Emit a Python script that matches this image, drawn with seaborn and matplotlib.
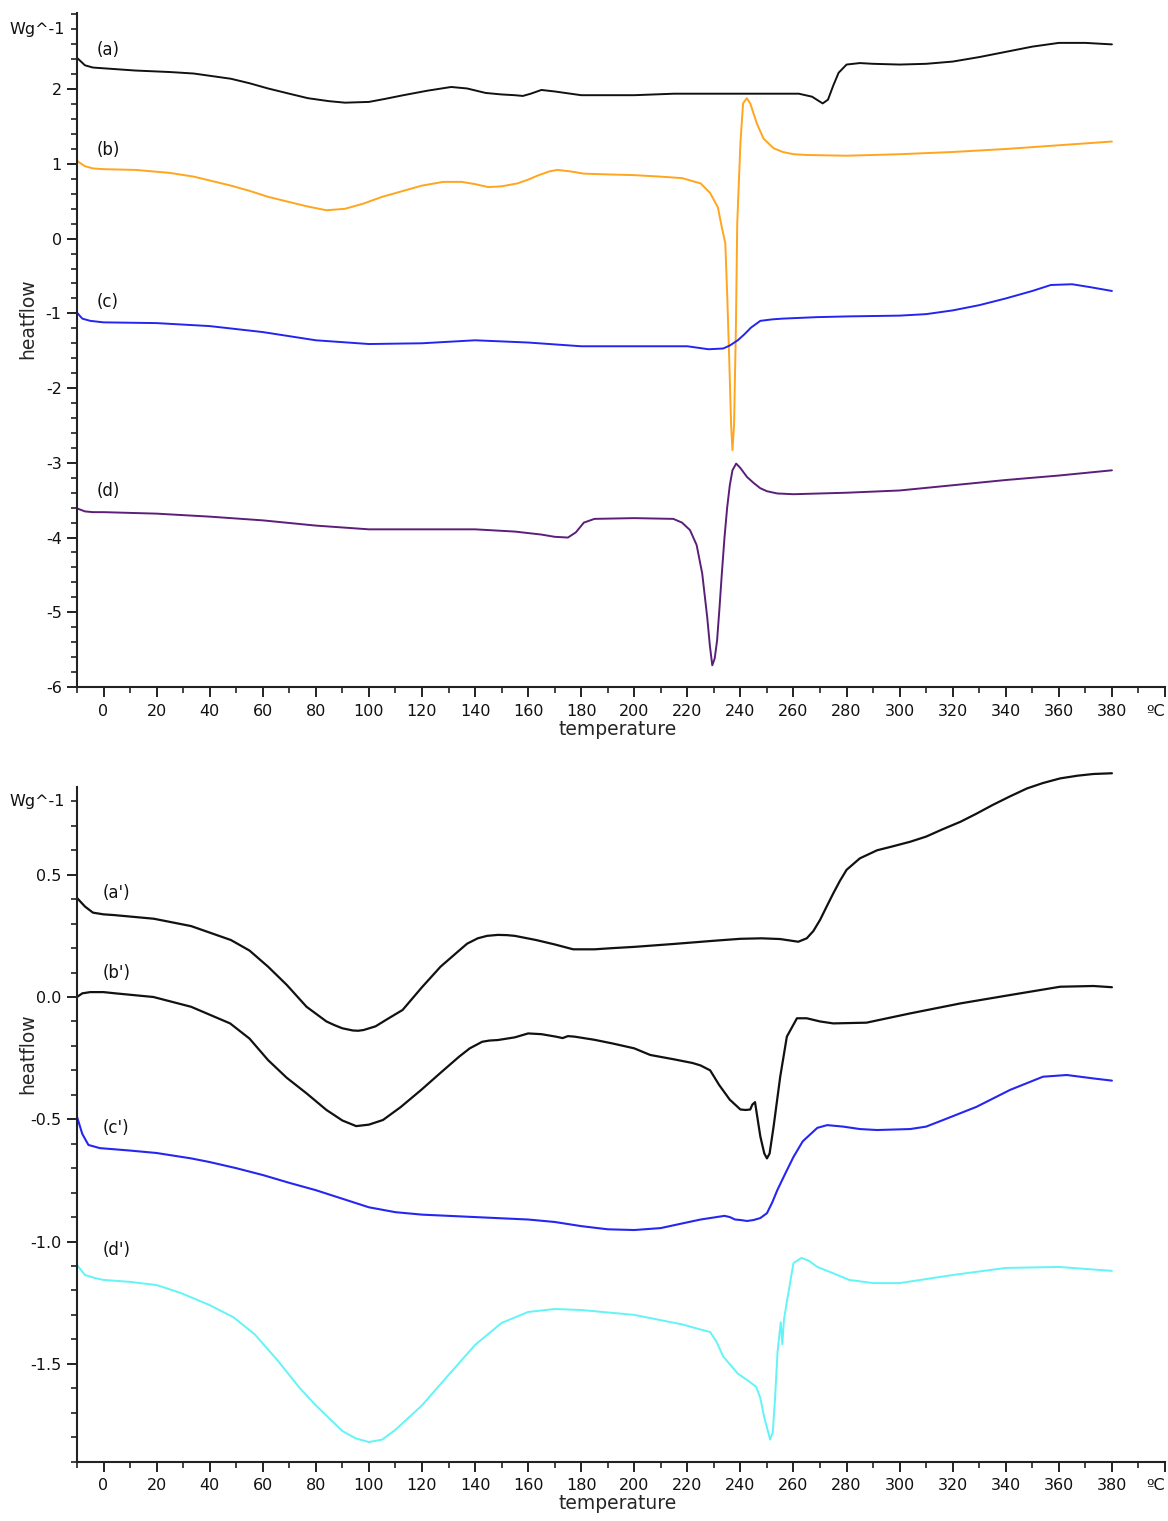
import numpy as np
import matplotlib
matplotlib.use("Agg")
import matplotlib.pyplot as plt
import matplotlib.transforms as mtransforms
from matplotlib.ticker import FixedLocator
import seaborn as sns

# ---------------- DSC traces, upper panel ----------------
t_a = [-10, -7, -4, 0, 12, 25, 34, 48, 55, 62, 70, 77, 85, 91, 100, 106, 113, 122, 131, 137,
       144, 150, 155, 158, 161, 165, 170, 180, 200, 215, 240, 262, 267, 271, 273, 275, 277,
       280, 285, 290, 300, 310, 320, 330, 340, 350, 360, 370, 380]
v_a = [2.42, 2.32, 2.29, 2.28, 2.25, 2.23, 2.21, 2.14, 2.08, 2.01, 1.94, 1.88, 1.84, 1.82,
       1.83, 1.87, 1.92, 1.98, 2.03, 2.01, 1.95, 1.93, 1.92, 1.91, 1.94, 1.99, 1.97, 1.92,
       1.92, 1.94, 1.94, 1.94, 1.90, 1.81, 1.86, 2.05, 2.22, 2.33, 2.35, 2.34, 2.33, 2.34,
       2.37, 2.43, 2.50, 2.57, 2.62, 2.62, 2.60]

t_b = [-10, -7, -4, 0, 12, 25, 34, 48, 55, 62, 70, 77, 84, 91, 98, 105, 113, 120, 128, 135,
       140, 145, 150, 156, 160, 164, 168, 171, 176, 181, 190, 200, 210, 218, 225, 228.6,
       231.5, 233, 234.3, 235, 235.8, 236.5, 237, 237.6, 238.3, 238.8, 240, 241, 242.4,
       243.7, 246.2, 248.7, 252.5, 256, 260, 265, 280, 300, 320, 340, 360, 380]
v_b = [1.04, 0.97, 0.94, 0.93, 0.92, 0.88, 0.83, 0.71, 0.64, 0.56, 0.49, 0.43, 0.38, 0.40,
       0.47, 0.56, 0.64, 0.71, 0.76, 0.76, 0.73, 0.69, 0.70, 0.74, 0.79, 0.85, 0.90, 0.92,
       0.90, 0.87, 0.86, 0.85, 0.83, 0.81, 0.74, 0.61, 0.42, 0.15, -0.06, -0.73, -1.63,
       -2.50, -2.83, -2.50, -1.19, 0.20, 1.28, 1.81, 1.88, 1.81, 1.54, 1.34, 1.21, 1.16,
       1.13, 1.12, 1.11, 1.13, 1.16, 1.20, 1.25, 1.30]

t_c = [-10, -8, -5, 0, 20, 40, 60, 80, 100, 120, 140, 160, 180, 200, 220, 228, 233.5, 236,
       239, 241.5, 244, 247.5, 252, 256, 269, 281, 300, 310, 320, 330, 340, 350, 357, 365,
       372, 380]
v_c = [-0.99, -1.07, -1.10, -1.12, -1.13, -1.17, -1.25, -1.36, -1.41, -1.40, -1.36, -1.39,
       -1.44, -1.44, -1.44, -1.48, -1.47, -1.43, -1.36, -1.28, -1.19, -1.10, -1.08, -1.07,
       -1.05, -1.04, -1.03, -1.01, -0.96, -0.89, -0.80, -0.70, -0.62, -0.61, -0.65, -0.70]

t_d = [-10, -7, -4, 0, 20, 40, 60, 80, 100, 120, 140, 155, 165, 170, 175, 178, 181, 185,
       200, 214.7, 218, 221, 223.5, 225.6, 227.5, 228.5, 229.4, 230.3, 231.2, 232.1, 233,
       234, 235, 236, 237, 238.4, 240, 242.5, 245, 247.5, 250, 253.9, 260, 280, 300, 320,
       340, 360, 380]
v_d = [-3.61, -3.65, -3.66, -3.66, -3.68, -3.72, -3.77, -3.84, -3.89, -3.89, -3.89, -3.92,
       -3.96, -3.99, -4.00, -3.93, -3.80, -3.75, -3.74, -3.75, -3.80, -3.90, -4.10, -4.48,
       -5.07, -5.45, -5.71, -5.62, -5.38, -4.95, -4.48, -4.00, -3.60, -3.30, -3.10, -3.01,
       -3.07, -3.19, -3.27, -3.34, -3.38, -3.41, -3.42, -3.40, -3.37, -3.30, -3.23, -3.17,
       -3.10]

# ---------------- DSC traces, lower panel ----------------
t_a2 = [-10, -7, -4, 0, 4, 19, 33, 48, 55, 62, 69, 76.5, 84, 87, 90, 94, 96, 98, 102.5, 107,
        112.7, 120, 127, 134, 137, 141, 144.5, 148.6, 152, 155, 163, 170, 177, 185, 192,
        200, 215, 230, 240, 248, 255, 261.8, 265, 267.5, 270, 272.5, 275, 277.5, 280, 285,
        291.5, 297, 304, 310, 316, 323, 329, 335, 341.5, 348, 354, 360.5, 367, 373, 380]
v_a2 = [0.405, 0.37, 0.345, 0.338, 0.335, 0.32, 0.29, 0.233, 0.19, 0.124, 0.05, -0.04,
        -0.10, -0.115, -0.128, -0.137, -0.138, -0.135, -0.12, -0.09, -0.053, 0.04, 0.124,
        0.19, 0.218, 0.24, 0.25, 0.254, 0.253, 0.25, 0.233, 0.215, 0.195, 0.195, 0.20,
        0.205, 0.217, 0.23, 0.238, 0.24, 0.237, 0.226, 0.24, 0.27, 0.315, 0.37, 0.424,
        0.475, 0.52, 0.567, 0.60, 0.615, 0.635, 0.656, 0.685, 0.717, 0.75, 0.785, 0.82,
        0.853, 0.875, 0.894, 0.905, 0.912, 0.915]

t_b2 = [-10, -8, -5, 0, 4.4, 18.8, 33, 47.7, 55, 62, 69, 76.5, 84, 90, 95.2, 100, 105.3,
        112, 119.7, 127, 134, 138, 142.7, 145.5, 148.6, 155, 160, 165, 170.4, 173, 175,
        177.4, 185, 191.8, 200, 206, 215, 222, 225, 228.6, 232, 236, 240, 242, 243.7,
        244.5, 245.5, 247.5, 249, 250, 251, 252.5, 255, 257.5, 261.3, 265, 270, 275,
        287.5, 304, 323, 341.6, 360.5, 373, 380]
v_b2 = [0.0, 0.015, 0.02, 0.02, 0.015, 0.0, -0.04, -0.108, -0.17, -0.258, -0.33, -0.394,
        -0.462, -0.505, -0.528, -0.522, -0.503, -0.45, -0.38, -0.31, -0.244, -0.21,
        -0.183, -0.178, -0.176, -0.165, -0.149, -0.152, -0.162, -0.168, -0.16, -0.162,
        -0.175, -0.19, -0.21, -0.237, -0.255, -0.27, -0.28, -0.30, -0.36, -0.42, -0.46,
        -0.462, -0.46, -0.44, -0.43, -0.57, -0.64, -0.66, -0.64, -0.53, -0.326, -0.162,
        -0.087, -0.087, -0.10, -0.108, -0.105, -0.067, -0.026, 0.008, 0.042, 0.045, 0.04]

t_c2 = [-10, -8, -5.7, -1.4, 10, 20, 33, 40, 50, 60, 70, 80, 90, 100, 110, 120, 140, 160,
        170, 180, 190, 200, 210, 218.5, 225, 231, 234, 236, 238, 240, 242.5, 245, 247.5,
        250, 252, 253.9, 257, 260, 263.5, 266, 269, 272.7, 278.7, 285, 291.5, 304, 310,
        316.4, 329, 341.6, 354, 363, 373, 380]
v_c2 = [-0.49, -0.56, -0.605, -0.618, -0.628, -0.638, -0.66, -0.675, -0.70, -0.728, -0.76,
        -0.79, -0.825, -0.86, -0.88, -0.89, -0.90, -0.91, -0.92, -0.937, -0.95, -0.953,
        -0.945, -0.925, -0.91, -0.90, -0.895, -0.90, -0.91, -0.912, -0.916, -0.912,
        -0.904, -0.884, -0.84, -0.79, -0.72, -0.654, -0.59, -0.565, -0.535, -0.524, -0.53,
        -0.54, -0.544, -0.54, -0.53, -0.503, -0.449, -0.38, -0.326, -0.319, -0.333, -0.342]

t_d2 = [-10, -7, -3, 0, 10, 20, 29, 40, 49, 57, 65.5, 74, 80, 90, 95, 100, 105, 110, 120,
        130, 140, 150, 160, 170, 180, 190, 200, 206, 218.5, 225, 228.6, 231, 233.5, 239,
        243, 246, 247.5, 249, 251.2, 252.2, 253, 254, 254.6, 255.2, 255.8, 256.4, 257.6,
        260, 263, 266, 269, 275, 281, 290, 300, 320, 340, 360, 380]
v_d2 = [-1.096, -1.137, -1.15, -1.157, -1.165, -1.178, -1.21, -1.26, -1.31, -1.38, -1.485,
        -1.60, -1.67, -1.775, -1.805, -1.82, -1.81, -1.77, -1.67, -1.546, -1.423, -1.333,
        -1.288, -1.276, -1.28, -1.29, -1.30, -1.313, -1.34, -1.36, -1.37, -1.41, -1.47,
        -1.54, -1.57, -1.595, -1.64, -1.72, -1.81, -1.78, -1.65, -1.45, -1.39, -1.33,
        -1.42, -1.32, -1.24, -1.088, -1.067, -1.08, -1.104, -1.13, -1.157, -1.17, -1.17,
        -1.137, -1.108, -1.104, -1.12]

# Curve tags and where they sit on the heat-flow scale
top_tags = ["(a)", "(b)", "(c)", "(d)"]
top_tag_y = [2.52, 1.18, -0.85, -3.38]
bottom_tags = ["(a')", "(b')", "(c')", "(d')"]
bottom_tag_y = [0.425, 0.098, -0.536, -1.035]

x_tick_values = list(range(0, 401, 20))
x_tick_labels = [str(v) for v in range(0, 381, 20)] + ["ºC"]

sns.set_style("ticks")
plt.rcParams["font.family"] = ["DejaVu Sans"]
plt.rcParams["axes.unicode_minus"] = False

W, H = 1168, 1521
fig = plt.figure(figsize=(W / 100, H / 100), dpi=100)
# upper panel: y from -6 (px 687) to 3.02 (px 13)
ax_top = fig.add_axes([77 / W, 1 - 687 / H, 1088 / W, 674 / H])
# lower panel: y from -1.9 (px 1461.6) to 0.95 (px 764.7); the spine stops at 0.86
ax_bot = fig.add_axes([77 / W, 1 - 1461.6 / H, 1088 / W, 696.9 / H])

axis_col = "#222222"


def style_axis(ax, ylim, spine_top, major_y, minor_y, unit_y, ylabel_y, xlabel_y):
    ax.set_xlim(-10, 400)
    ax.set_ylim(*ylim)
    for side in ("top", "right"):
        ax.spines[side].set_visible(False)
    for side in ("left", "bottom"):
        ax.spines[side].set_linewidth(1.5)
        ax.spines[side].set_color(axis_col)
    ax.spines["left"].set_bounds(ylim[0], spine_top)
    ax.xaxis.set_major_locator(FixedLocator(x_tick_values))
    ax.set_xticklabels(x_tick_labels)
    ax.get_xticklabels()[-1].set_horizontalalignment("right")
    ax.xaxis.set_minor_locator(FixedLocator(list(range(-10, 400, 20))))
    ax.yaxis.set_major_locator(FixedLocator(major_y))
    ax.yaxis.set_minor_locator(FixedLocator(minor_y))
    ax.tick_params(axis="both", which="major", length=7, width=1.4, color=axis_col,
                   labelsize=11.5, labelcolor="#111111", direction="out")
    ax.tick_params(axis="both", which="minor", length=4.5, width=1.2, color=axis_col,
                   direction="out")
    ax.tick_params(axis="x", which="major", pad=5)
    ax.tick_params(axis="y", which="major", pad=4)
    trans = mtransforms.blended_transform_factory(ax.transAxes, ax.transData)
    ax.text(-12 / 1088, unit_y, "Wg^-1", transform=trans, ha="right", va="center",
            fontsize=11.5, color="#111111")
    ax.set_xlabel("temperature", fontsize=13.5)
    ax.xaxis.set_label_coords(0.497, xlabel_y)
    ax.set_ylabel("heatflow", fontsize=13.5)
    ax.yaxis.set_label_coords(-49 / 1088, ylabel_y)
    ax.yaxis.label.set_va("center")
    ax.grid(False)


def draw(ax, t, v, color, lw):
    sns.lineplot(x=t, y=v, ax=ax, color=color, linewidth=lw, sort=False,
                 estimator=None, clip_on=False)


# Upper panel
draw(ax_top, t_a, v_a, "#111111", 1.4)
draw(ax_top, t_b, v_b, "#FFA51E", 1.4)
draw(ax_top, t_c, v_c, "#2424F0", 1.4)
draw(ax_top, t_d, v_d, "#5A1F78", 1.4)
style_axis(ax_top, (-6, 3.02), 3.02, list(range(-6, 3)),
           list(np.round(np.arange(-6, 3.01, 0.2), 1)), 2.8, 0.547, -0.049)
for tag, y in zip(top_tags, top_tag_y):
    ax_top.text(-2.5, y, tag, fontsize=12, ha="left", va="center", color="#111111")

# Lower panel
draw(ax_bot, t_a2, v_a2, "#111111", 1.6)
draw(ax_bot, t_b2, v_b2, "#111111", 1.6)
draw(ax_bot, t_c2, v_c2, "#2626F2", 1.5)
draw(ax_bot, t_d2, v_d2, "#62F4F6", 1.4)
style_axis(ax_bot, (-1.9, 0.95), 0.86, [-1.5, -1.0, -0.5, 0.0, 0.5],
           list(np.round(np.arange(-1.9, 0.81, 0.1), 1)), 0.8, 0.586, -0.047)
ax_bot.set_yticklabels(["-1.5", "-1.0", "-0.5", "0.0", "0.5"])
for tag, y in zip(bottom_tags, bottom_tag_y):
    ax_bot.text(-0.5, y, tag, fontsize=12, ha="left", va="center", color="#111111")

fig.savefig("out.png", dpi=100, facecolor="white")
